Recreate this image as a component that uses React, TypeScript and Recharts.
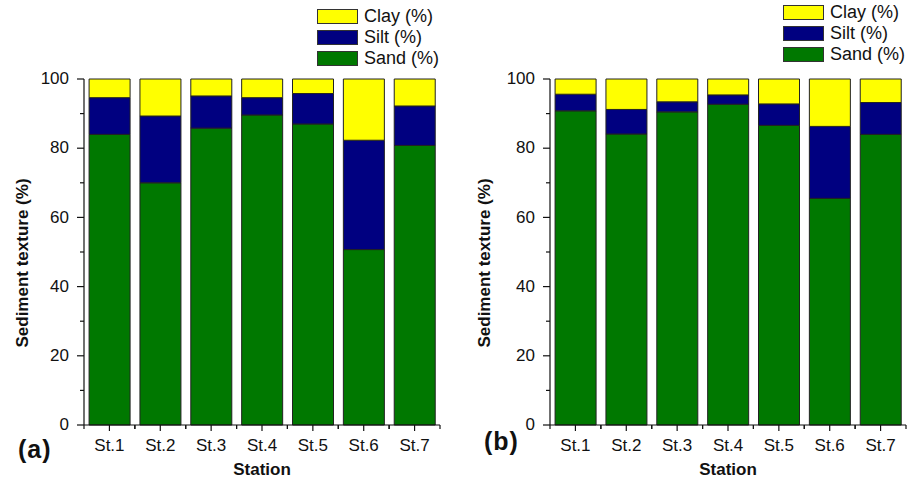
import React from "react";
import { Bar, BarChart, Label, Legend, XAxis, YAxis } from "recharts";

// stations along the x axis
const stations = ["St.1", "St.2", "St.3", "St.4", "St.5", "St.6", "St.7"];

// panel (a) composition, %
const sandA = [84.0, 70.0, 85.8, 89.6, 87.0, 50.7, 80.8];
const siltA = [10.6, 19.3, 9.3, 5.0, 8.8, 31.6, 11.4];
const clayA = [5.4, 10.7, 4.9, 5.4, 4.2, 17.7, 7.8];

// panel (b) composition, %
const sandB = [90.8, 84.1, 90.5, 92.7, 86.6, 65.5, 84.0];
const siltB = [4.8, 7.1, 2.9, 2.7, 6.2, 20.8, 9.2];
const clayB = [4.4, 8.8, 6.6, 4.6, 7.2, 13.7, 6.8];

// every 10 gets a tick, every 20 gets a label
const yTicks = [0, 10, 20, 30, 40, 50, 60, 70, 80, 90, 100];

// legend reads top-down in the same order as the stack, top first
const legendOrder = ["Clay (%)", "Silt (%)", "Sand (%)"];

const SAND = "#007800";
const SILT = "#000080";
const CLAY = "#FFFF00";
const INK = "#111";
const FONT = "Arial, 'Liberation Sans', sans-serif";

const PLOT_W = 356;
const HALF_BAND = PLOT_W / stations.length / 2;

type Row = { station: string; sand: number; silt: number; clay: number };

const toRows = (sand: number[], silt: number[], clay: number[]): Row[] =>
  stations.map((station, i) => ({ station, sand: sand[i], silt: silt[i], clay: clay[i] }));

const rowsA = toRows(sandA, siltA, clayA);
const rowsB = toRows(sandB, siltB, clayB);

const YTick = (props: any) => {
  const { x, y, payload } = props;
  const axisX = x + 7 + 8; // tickSize + tickMargin
  const major = payload.value % 20 === 0;
  return (
    <g>
      <line x1={axisX} x2={axisX - (major ? 7 : 4)} y1={y} y2={y} stroke={INK} strokeWidth={1.2} />
      {major && (
        <text x={axisX - 15} y={y} dy="0.3em" textAnchor="end" fontSize={17} fontFamily={FONT} fill={INK}>
          {payload.value}
        </text>
      )}
    </g>
  );
};

const XTick = (props: any) => {
  const { x, y, payload } = props;
  const axisY = y - 14;
  return (
    <g stroke={INK} strokeWidth={1.2}>
      <line x1={x} x2={x} y1={axisY} y2={axisY + 6} />
      <line x1={x - HALF_BAND} x2={x - HALF_BAND} y1={axisY} y2={axisY + 4} />
      <line x1={x + HALF_BAND} x2={x + HALF_BAND} y1={axisY} y2={axisY + 4} />
      <text x={x} y={axisY + 26} textAnchor="middle" fontSize={17} fontFamily={FONT} fill={INK} stroke="none">
        {payload.value}
      </text>
    </g>
  );
};

const LegendBox = (props: any) => {
  const items = [...(props.payload || [])].sort(
    (a: any, b: any) => legendOrder.indexOf(a.value) - legendOrder.indexOf(b.value)
  );
  return (
    <div style={{ fontFamily: FONT }}>
      {items.map((it: any) => (
        <div key={it.value} style={{ display: "flex", alignItems: "center", height: 21 }}>
          <span
            style={{
              display: "inline-block",
              width: 41,
              height: 15,
              boxSizing: "border-box",
              background: it.color,
              border: "1px solid #333",
            }}
          />
          <span style={{ marginLeft: 6, fontSize: 18, color: INK, whiteSpace: "nowrap" }}>{it.value}</span>
        </div>
      ))}
    </div>
  );
};

type PanelProps = {
  data: Row[];
  tag: string;
  left: number;
  width: number;
  legendTop: number;
  titleX: number;
  tagY: number;
};

const Panel = ({ data, tag, left, width, legendTop, titleX, tagY }: PanelProps) => (
  <div style={{ position: "absolute", left, top: 0 }}>
    <BarChart
      width={width}
      height={483}
      data={data}
      margin={{ top: 79, right: width - 84 - PLOT_W, bottom: 25, left: 0 }}
      barCategoryGap="10%"
    >
      <XAxis
        dataKey="station"
        height={33}
        tickSize={6}
        tickMargin={8}
        tickLine={false}
        tick={<XTick />}
        axisLine={{ stroke: INK, strokeWidth: 1.2 }}
        interval={0}
      >
        <Label
          value="Station"
          position="bottom"
          offset={5}
          style={{ fontSize: 17, fontWeight: "bold", fontFamily: FONT, fill: INK }}
        />
        <Label
          content={() => (
            <text x={18} y={tagY} fontSize={25} fontWeight="bold" fontFamily={FONT} fill={INK} letterSpacing={1}>
              {tag}
            </text>
          )}
        />
      </XAxis>
      <YAxis
        type="number"
        domain={[0, 100]}
        ticks={yTicks}
        interval={0}
        width={84}
        tickSize={7}
        tickMargin={8}
        tickLine={false}
        tick={<YTick />}
        axisLine={{ stroke: INK, strokeWidth: 1.2 }}
      >
        <Label
          content={(p: any) => {
            const cy = p.viewBox.y + p.viewBox.height / 2 + 11;
            return (
              <text
                x={titleX}
                y={cy}
                transform={`rotate(-90, ${titleX}, ${cy})`}
                textAnchor="middle"
                fontSize={17}
                fontWeight="bold"
                fontFamily={FONT}
                fill={INK}
              >
                Sediment texture (%)
              </text>
            );
          }}
        />
      </YAxis>
      <Legend
        layout="vertical"
        align="center"
        verticalAlign="middle"
        wrapperStyle={{ top: legendTop, left: 317, width: "auto" }}
        content={<LegendBox />}
      />
      <Bar dataKey="sand" name="Sand (%)" stackId="s" fill={SAND} stroke="#222" strokeWidth={1} isAnimationActive={false} />
      <Bar dataKey="silt" name="Silt (%)" stackId="s" fill={SILT} stroke="#222" strokeWidth={1} isAnimationActive={false} />
      <Bar dataKey="clay" name="Clay (%)" stackId="s" fill={CLAY} stroke="#222" strokeWidth={1} isAnimationActive={false} />
    </BarChart>
  </div>
);

export default function App() {
  return (
    <div style={{ position: "absolute", left: 0, top: 0, width: 908, height: 483, background: "#fff", overflow: "hidden" }}>
      <Panel data={rowsA} tag="(a)" left={0} width={460} legendTop={5.5} titleX={28} tagY={458} />
      <Panel data={rowsB} tag="(b)" left={466} width={442} legendTop={2} titleX={24} tagY={450} />
    </div>
  );
}
